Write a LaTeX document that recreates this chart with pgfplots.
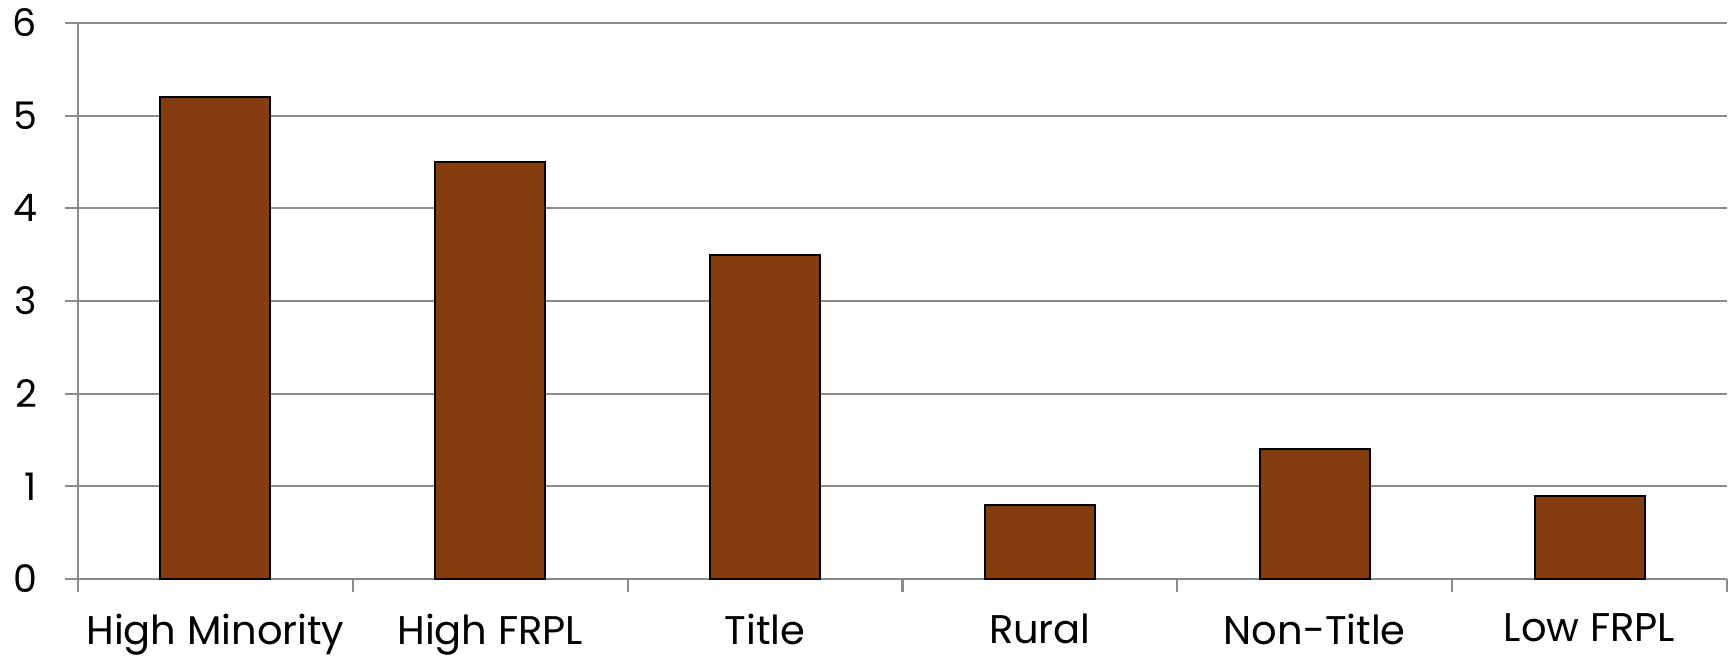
\documentclass[border=0pt]{standalone}
\usepackage{pgfplots}
\pgfplotsset{compat=1.18}
\usetikzlibrary{calc}
\usepackage{fontspec}
\setmainfont{Poppins}
\definecolor{barbrown}{RGB}{132,61,14}
\definecolor{gridgray}{RGB}{140,140,140}
\begin{document}
\begin{tikzpicture}
\begin{axis}[
  name=ax,
  scale only axis,
  width=824.5pt, height=278pt,
  ymin=0, ymax=6, ytick={0,1,...,6},
  xmin=-0.5, xmax=5.5,
  xtick={0,1,2,3,4,5},
  xticklabels={High Minority,High FRPL,Title,Rural,Non-Title,Low FRPL},
  minor xtick={-0.5,0.5,1.5,2.5,3.5,4.5,5.5},
  axis x line=bottom, axis y line=left,
  axis line style={gridgray, line width=1.1pt, -},
  ymajorgrids, grid style={gridgray, line width=1.1pt},
  major x tick style={draw=none},
  minor x tick style={gridgray, line width=1.1pt},
  y tick style={gridgray, line width=1.1pt},
  tick align=outside,
  major tick length=6.5pt, minor tick length=6.5pt,
  /pgf/number format/assume math mode=true,
  yticklabel style={font=\fontsize{19}{20}\selectfont, xshift=-10.5pt},
  xticklabel style={font=\fontsize{20}{22}\selectfont, yshift=-7.5pt},
  clip=false,
]
\addplot[ybar, bar width=0.4, fill=barbrown, draw=black, line width=1pt]
  coordinates {(0,5.2) (1,4.5) (2,3.5) (3,0.8) (4,1.4) (5,0.9)};
\end{axis}
\pgfresetboundingbox
\path ($(ax.south west)+(-39pt,-40pt)$) rectangle ($(ax.north east)+(3pt,11.5pt)$);
\end{tikzpicture}
\end{document}
